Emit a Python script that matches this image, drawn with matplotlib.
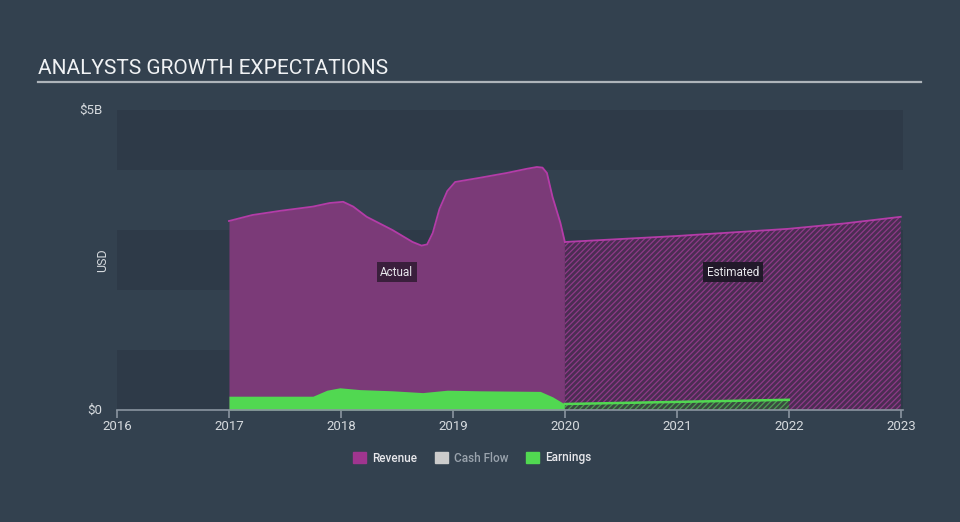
import matplotlib.pyplot as plt
from matplotlib.patches import Patch

plt.rcParams['font.family'] = ['Roboto', 'DejaVu Sans']
plt.rcParams['hatch.linewidth'] = 0.9

# revenue, actual (year, $B)
rev_x = [2017.0, 2017.21, 2017.46, 2017.75, 2017.90, 2018.02, 2018.11, 2018.23,
         2018.46, 2018.64, 2018.72, 2018.77, 2018.82, 2018.88, 2018.95, 2019.02,
         2019.24, 2019.48, 2019.66, 2019.75, 2019.80, 2019.84, 2019.89, 2019.96,
         2020.0]
rev_y = [3.15, 3.25, 3.32, 3.39, 3.45, 3.47, 3.39, 3.22,
         3.0, 2.8, 2.74, 2.76, 2.95, 3.35, 3.65, 3.8,
         3.87, 3.95, 4.02, 4.05, 4.04, 3.95, 3.55, 3.12,
         2.8]
# revenue, analyst estimates
rev_est_x = [2020, 2021, 2022, 2022.5, 2023]
rev_est_y = [2.8, 2.9, 3.02, 3.11, 3.22]

# earnings, actual
earn_x = [2017.0, 2017.75, 2017.875, 2017.99, 2018.17, 2018.46, 2018.73, 2018.95,
          2019.24, 2019.78, 2019.89, 2019.98, 2020.0]
earn_y = [0.23, 0.23, 0.33, 0.37, 0.34, 0.32, 0.29, 0.33,
          0.32, 0.31, 0.22, 0.12, 0.10]
# earnings, analyst estimates
earn_est_x = [2020, 2021, 2022]
earn_est_y = [0.10, 0.135, 0.17]

years = [2016, 2017, 2018, 2019, 2020, 2021, 2022, 2023]
legend_names = ['Revenue', 'Cash Flow', 'Earnings']

bg = '#33414f'
rev_fill = '#7b3a78'
rev_line = '#b43ca8'
green = '#51d851'

fig = plt.figure(figsize=(9.6, 5.22), dpi=100, facecolor=bg)
ax = fig.add_axes([117/960, 112/522, 786/960, 300/522])
ax.set_facecolor(bg)
ax.set_xlim(2016, 2023.02)
ax.set_ylim(0, 5)

# horizontal bands
for i in range(5):
    c = '#2e3a48' if i % 2 == 0 else bg
    ax.axhspan(i, i + 1, color=c, lw=0, zorder=0)

# revenue
ax.fill_between(rev_x, rev_y, color=rev_fill, lw=0, zorder=2)
ax.plot(rev_x, rev_y, color=rev_line, lw=1.3, zorder=3)
ax.fill_between(rev_est_x, rev_est_y, facecolor='#4b2d53', edgecolor='#8e3a88',
                hatch='//////', lw=0, zorder=2)
ax.plot(rev_est_x, rev_est_y, color=rev_line, lw=1.3, zorder=3)

# earnings
ax.fill_between(earn_x, earn_y, color=green, lw=0, zorder=4)
ax.fill_between(earn_est_x, earn_est_y, facecolor='#3a4a40', edgecolor='#4fa055',
                hatch='//////', lw=0, zorder=4)
ax.plot(earn_est_x, earn_est_y, color=green, lw=1.8, zorder=5)

# axes styling
for s in ['top', 'right', 'left']:
    ax.spines[s].set_visible(False)
ax.spines['bottom'].set_color('#8a95a0')
ax.spines['bottom'].set_linewidth(1.2)
ax.spines['bottom'].set_zorder(6)
ax.set_xticks(years)
ax.set_xticklabels([str(y) for y in years])
ax.tick_params(axis='x', colors='#8a95a0', labelcolor='#d6dade', length=6,
               width=1.2, labelsize=9.5, pad=1)
ax.set_yticks([])

fig.text(102/960, (522-110)/522, '$5B', color='#d6dade', fontsize=9.5,
         ha='right', va='center')
fig.text(102/960, (522-410)/522, '$0', color='#d6dade', fontsize=9.5,
         ha='right', va='center')
fig.text(103/960, (522-260)/522, 'USD', color='#d6dade', fontsize=9,
         rotation=90, ha='center', va='center')

# title and underline
fig.text(38/960, (522-68)/522, 'ANALYSTS GROWTH EXPECTATIONS', color='#f0f2f4',
         fontsize=15, ha='left', va='center')
fig.add_artist(plt.Line2D([38/960, 921/960], [(522-82)/522] * 2,
                          color='#aeb4ba', lw=1.6))

# period labels
ax.text(2018.5, 2.3, 'Actual', color='#e8e8ec', fontsize=8.5, ha='center',
        va='center', zorder=7,
        bbox=dict(boxstyle='square,pad=0.3', fc='#3a1f3c', ec='none'))
ax.text(2021.5, 2.3, 'Estimated', color='#e8e8ec', fontsize=8.5, ha='center',
        va='center', zorder=7,
        bbox=dict(boxstyle='square,pad=0.3', fc='#22192a', ec='none'))

# legend
handles = [Patch(color='#a0358f'), Patch(color='#cccccc'), Patch(color=green)]
leg = fig.legend(handles, legend_names, loc='center', ncol=3, frameon=False,
                 bbox_to_anchor=(472/960, (522-458)/522), fontsize=8.5,
                 handlelength=1.1, handleheight=1.1, handletextpad=0.5,
                 columnspacing=1.5)
for t, c in zip(leg.get_texts(), ['#e8e8ec', '#9aa3ad', '#e8e8ec']):
    t.set_color(c)
    t.set_fontweight('medium')

fig.savefig('out.png', dpi=100, facecolor=bg)
